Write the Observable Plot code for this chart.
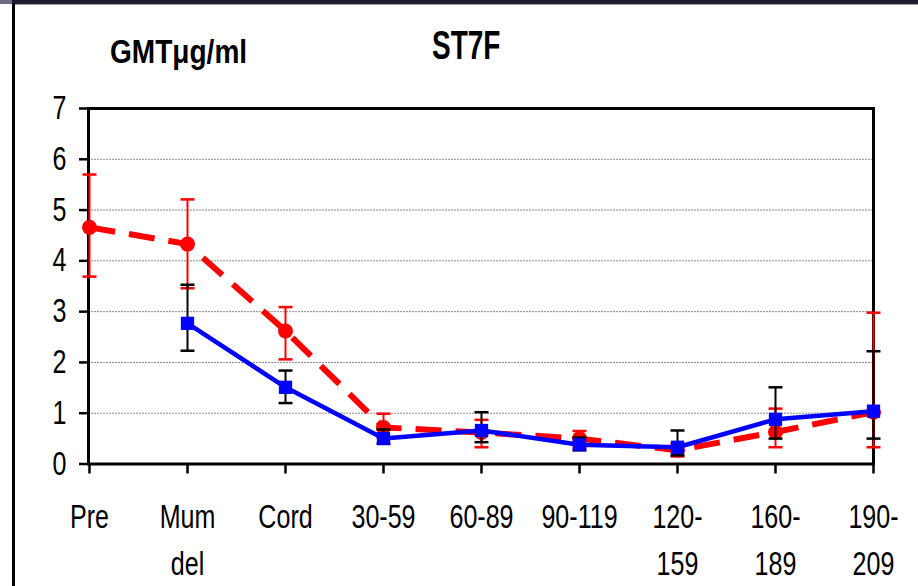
<!DOCTYPE html>
<html><head><meta charset="utf-8">
<script src="https://cdn.jsdelivr.net/npm/d3@7"></script>
<script src="https://cdn.jsdelivr.net/npm/@observablehq/plot@0.6"></script>
<style>
html,body{margin:0;padding:0;background:#fff;}
#wrap{position:relative;width:918px;height:586px;overflow:hidden;background:#fff;}
#chart{position:absolute;left:0;top:0;}
.t{position:absolute;font-family:'Liberation Sans',Arial,sans-serif;font-weight:bold;color:#000;white-space:nowrap;line-height:1;transform-origin:left center;}
</style></head><body>
<div id="wrap">
  <div id="chart"></div>
  <div class="t" style="left:432px;top:25px;font-size:40px;transform:scaleX(0.7)">ST7F</div>
  <div class="t" style="left:110px;top:35px;font-size:33px;transform:scaleX(0.85)">GMTμg/ml</div>
  <div style="position:absolute;left:0;top:0;width:918px;height:4px;background:#1c1c2a"></div>
  <div style="position:absolute;left:0;top:0;width:12px;height:4px;background:#6a6a86"></div>
  <div style="position:absolute;left:12px;top:4px;width:906px;height:1px;background:#9a9aa8"></div>
  <div style="position:absolute;left:12px;top:3px;width:3px;height:583px;background:#000"></div>
</div>
<script>
const categories = ["Pre","Mum del","Cord","30-59","60-89","90-119","120-159","160-189","190-209"];
const tickLabels = ["Pre","Mum\ndel","Cord","30-59","60-89","90-119","120-\n159","160-\n189","190-\n209"];
const yTicks = [0,1,2,3,4,5,6,7];
const gridVals = [1,2,3,4,5,6];

// red dashed series (circles)
const red   = [4.66, 4.33, 2.62, 0.72, 0.62, 0.50, 0.27, 0.63, 1.02];
const redLo = [3.69, 3.46, 2.06, 0.52, 0.33, 0.32, 0.15, 0.33, 0.33];
const redHi = [5.70, 5.21, 3.09, 0.99, 0.87, 0.65, 0.40, 1.09, 2.98];

// blue solid series (squares)
const blue   = [null, 2.77, 1.51, 0.50, 0.66, 0.38, 0.33, 0.88, 1.04];
const blueLo = [null, 2.23, 1.20, 0.40, 0.43, 0.27, 0.17, 0.50, 0.50];
const blueHi = [null, 3.53, 1.84, 0.68, 1.02, 0.52, 0.66, 1.51, 2.22];

const redData = categories.map((c,i)=>({cat:c, v:red[i], lo:redLo[i], hi:redHi[i]}));
const blueData = categories.map((c,i)=>({cat:c, v:blue[i], lo:blueLo[i], hi:blueHi[i]})).filter(d=>d.v!=null);

const cap = {draw(ctx){ ctx.moveTo(-7,0); ctx.lineTo(7,0); }};
const font = "'Liberation Sans',Arial,sans-serif";

const chart = Plot.plot({
  width: 918, height: 586,
  marginLeft: 88, marginRight: 45, marginTop: 108, marginBottom: 122.5,
  x: {type: "point", domain: categories, padding: 0},
  y: {domain: [0, 7]},
  style: {fontFamily: font, fontSize: "33px", color: "#000", background: "transparent", overflow: "visible"},
  marks: [
    Plot.ruleY(gridVals, {stroke: "#8a8a8a", strokeDasharray: "2,1", strokeWidth: 1}),
    Plot.frame({stroke: "#000", strokeWidth: 3}),
    Plot.axisY({ticks: yTicks, tickFormat: "d", tickSize: 9, tickPadding: 13, strokeWidth: 2.5, fontSize: 33, label: null}),
    Plot.axisX({tickSize: 10, tickPadding: 21, strokeWidth: 2.5, fontSize: 33, lineHeight: 1.42, label: null,
      tickFormat: d => tickLabels[categories.indexOf(d)]}),
    Plot.ruleX(redData, {x: "cat", y1: "lo", y2: "hi", stroke: "#ff0000", strokeWidth: 2}),
    Plot.dot(redData, {x: "cat", y: "lo", symbol: cap, stroke: "#ff0000", strokeWidth: 2.5}),
    Plot.dot(redData, {x: "cat", y: "hi", symbol: cap, stroke: "#ff0000", strokeWidth: 2.5}),
    Plot.line(redData, {x: "cat", y: "v", stroke: "#ff0000", strokeWidth: 6, strokeDasharray: "26,14", strokeLinecap: "butt"}),
    Plot.dot(redData, {x: "cat", y: "v", r: 7.5, fill: "#ff0000", stroke: "none"}),
    Plot.ruleX(blueData, {x: "cat", y1: "lo", y2: "hi", stroke: "#000", strokeWidth: 2}),
    Plot.dot(blueData, {x: "cat", y: "lo", symbol: cap, stroke: "#000", strokeWidth: 2.5}),
    Plot.dot(blueData, {x: "cat", y: "hi", symbol: cap, stroke: "#000", strokeWidth: 2.5}),
    Plot.line(blueData, {x: "cat", y: "v", stroke: "#0000ff", strokeWidth: 4.5}),
    Plot.dot(blueData, {x: "cat", y: "v", r: 7.5, symbol: "square", fill: "#0000ff", stroke: "none"})
  ]
});
// condense tick label glyphs horizontally (narrow Arial look)
chart.querySelectorAll("g[aria-label='x-axis tick label'] text, g[aria-label='y-axis tick label'] text").forEach(t => {
  const tr = t.getAttribute("transform");
  if (tr) t.setAttribute("transform", tr + " scale(0.76,1)");
});
document.getElementById("chart").appendChild(chart);
</script>
</body></html>
